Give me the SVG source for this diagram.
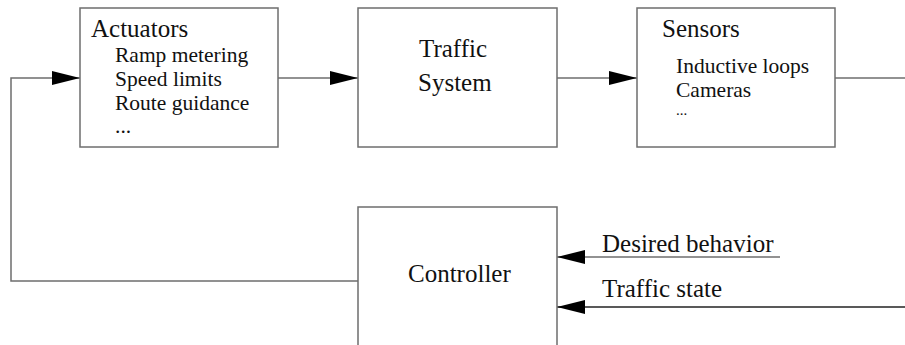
<svg xmlns="http://www.w3.org/2000/svg" width="905" height="345" viewBox="0 0 905 345">
<defs>
<style>
.box{fill:#fff;stroke:#6e6e6e;stroke-width:1.5}
.ln{fill:none;stroke:#6e6e6e;stroke-width:1.5}
.lnd{fill:none;stroke:#222;stroke-width:1.5}
.t{font-family:"Liberation Serif","Times New Roman",serif;font-size:25px;fill:#111}
.s{font-family:"Liberation Serif","Times New Roman",serif;font-size:21.5px;fill:#111}
.d{font-family:"Liberation Serif","Times New Roman",serif;font-size:15px;fill:#111}
</style>
<marker id="ah" markerUnits="userSpaceOnUse" markerWidth="30" markerHeight="16" refX="28" refY="7" orient="auto">
<path d="M0,0 L28,7 L0,14 Z" fill="#000"/>
</marker>
</defs>
<rect width="905" height="345" fill="#fff"/>
<g id="connectors">
<path class="ln" d="M278,78 H358" marker-end="url(#ah)"/>
<path class="ln" d="M557,78 H637" marker-end="url(#ah)"/>
<path class="ln" d="M835,78 H905"/>
<path class="ln" d="M358,281 H11 V78 H80" marker-end="url(#ah)"/>
<path class="ln" d="M780,257 H557" marker-end="url(#ah)"/>
<path class="lnd" d="M905,307 H557" marker-end="url(#ah)"/>
</g>
<g id="actuators">
<rect class="box" x="80" y="8" width="198" height="139"/>
<text class="t" x="91" y="37">Actuators</text>
<text class="s" x="115" y="62">Ramp metering</text>
<text class="s" x="115" y="86">Speed limits</text>
<text class="s" x="115" y="110">Route guidance</text>
<text class="s" x="115" y="133">...</text>
</g>
<g id="traffic-system">
<rect class="box" x="358" y="8" width="199" height="139"/>
<text class="t" x="419" y="57">Traffic</text>
<text class="t" x="418" y="91">System</text>
</g>
<g id="sensors">
<rect class="box" x="637" y="8" width="198" height="139"/>
<text class="t" x="662" y="37">Sensors</text>
<text class="s" x="676" y="73">Inductive loops</text>
<text class="s" x="676" y="97">Cameras</text>
<text class="d" x="676" y="115">...</text>
</g>
<g id="controller">
<path class="box" d="M358,350 V207 H557 V350"/>
<text class="t" x="408" y="282">Controller</text>
</g>
<g id="labels">
<text class="t" x="602" y="252">Desired behavior</text>
<text class="t" x="602" y="297">Traffic state</text>
</g>
</svg>
